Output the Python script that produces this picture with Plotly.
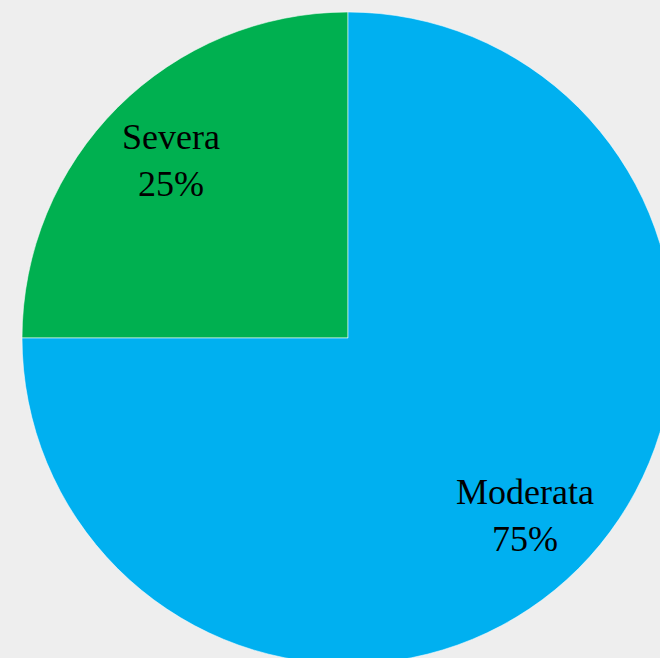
import math
import plotly.graph_objects as go

# Severity breakdown
labels = ["Severa", "Moderata"]
values = [25, 75]
colors = ["#00B050", "#00B0F0"]

# Canvas is a little larger than the window so the disc runs off the right and bottom edges
W, H = 696, 676
cx, cy, r = 348, 338, 326
label_radius = 0.77  # fraction of the radius where the labels sit

fig = go.Figure(
    go.Pie(
        labels=labels,
        values=values,
        sort=False,
        direction="clockwise",
        rotation=270,
        marker=dict(colors=colors, line=dict(color="rgba(255,255,255,0.55)", width=1)),
        textinfo="none",
        showlegend=False,
        hoverinfo="label+percent",
        domain=dict(
            x=[(cx - r) / W, (cx + r) / W],
            y=[(H - cy - r) / H, (H - cy + r) / H],
        ),
    )
)

# Slice labels: placed at the middle angle of each slice (Severa spans 9 to 12 o'clock)
total = sum(values)
start = 180.0
annotations = []
for lab, val in zip(labels, values):
    sweep = 360.0 * val / total
    mid = math.radians(start - sweep / 2)
    start -= sweep
    px = cx + label_radius * r * math.cos(mid)
    py = (H - cy) + label_radius * r * math.sin(mid)
    annotations.append(
        dict(
            x=px / W,
            y=py / H,
            xref="paper",
            yref="paper",
            text=f"{lab}<br>{round(100 * val / total)}%",
            showarrow=False,
            font=dict(family="Liberation Serif", size=36, color="#000000"),
            align="center",
            xanchor="center",
            yanchor="middle",
        )
    )

fig.update_layout(
    width=W,
    height=H,
    margin=dict(l=0, r=0, t=0, b=0),
    paper_bgcolor="#eeeeee",
    plot_bgcolor="#eeeeee",
    annotations=annotations,
)

fig.write_html(
    "out.html",
    post_script=(
        "document.documentElement.style.overflow='hidden';"
        "document.body.style.overflow='hidden';"
        "document.body.style.margin='0';"
    ),
)
